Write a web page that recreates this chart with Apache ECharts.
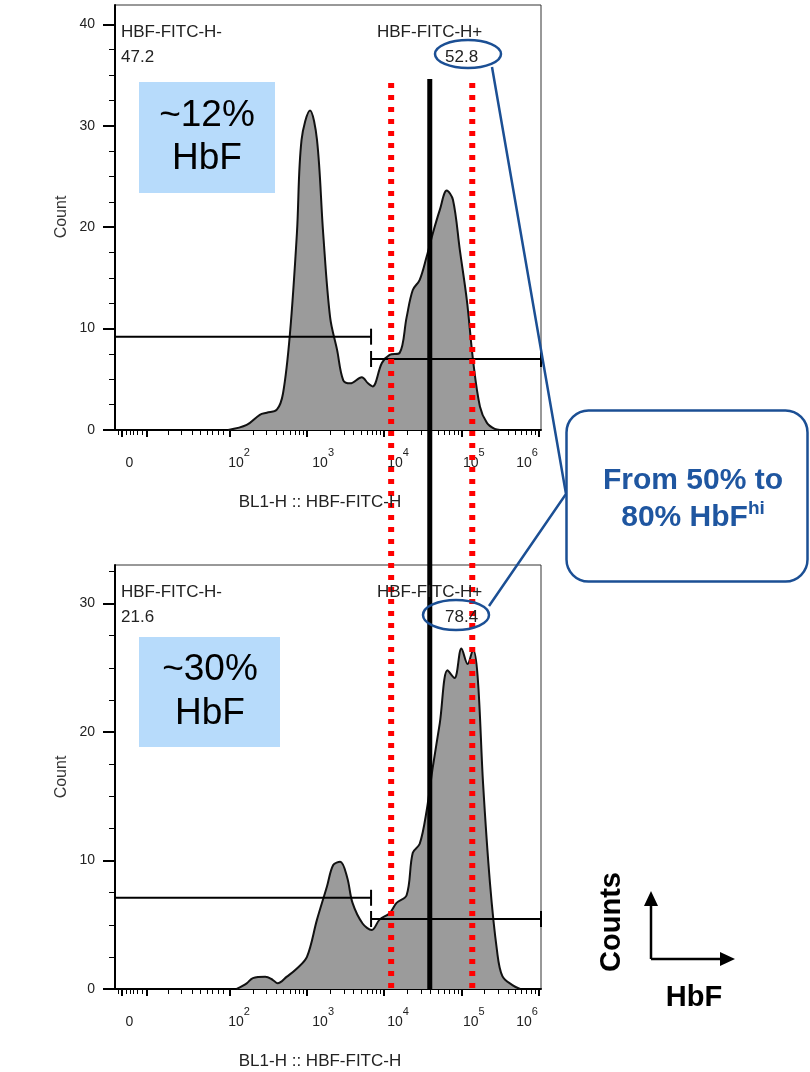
<!DOCTYPE html>
<html>
<head>
<meta charset="UTF-8">
<title>HbF histograms</title>
<script src="https://cdn.jsdelivr.net/npm/echarts@6.0.0/dist/echarts.min.js"></script>
<style>
  html, body { margin: 0; padding: 0; background: #fff; }
  #chart { width: 810px; height: 1072px; }
</style>
</head>
<body>
<div id="chart"></div>
<script>
// histogram values: x in log10 units of BL1-H fluorescence, y = count
var topLog   = [1.98, 2.22, 2.39, 2.48, 2.61, 2.69, 2.78, 2.87, 2.93, 3.04, 3.13, 3.21, 3.30, 3.39, 3.47, 3.56, 3.71, 3.79, 3.85, 3.97, 4.07, 4.20, 4.29, 4.37, 4.46, 4.55, 4.63, 4.72, 4.81, 4.89, 4.98, 5.07, 5.15, 5.24, 5.33, 5.43, 5.50];
var topCount = [0, 0.5, 1.5, 1.7, 2.0, 3.6, 9.5, 19.4, 28.6, 31.5, 28.6, 19.4, 11.1, 7.9, 4.9, 4.6, 5.2, 4.6, 4.3, 6.6, 7.4, 7.6, 11.1, 13.8, 14.8, 17.1, 19.4, 21.7, 23.6, 22.7, 17.7, 12.8, 6.9, 2.3, 0.7, 0.1, 0];

var botLog   = [2.09, 2.22, 2.30, 2.46, 2.56, 2.62, 2.74, 2.87, 3.00, 3.13, 3.26, 3.34, 3.43, 3.52, 3.59, 3.72, 3.84, 3.94, 4.07, 4.16, 4.29, 4.37, 4.46, 4.55, 4.63, 4.72, 4.82, 4.91, 5.00, 5.08, 5.15, 5.21, 5.28, 5.37, 5.46, 5.53, 5.66, 5.76];
var botCount = [0, 0.44, 0.85, 0.96, 0.7, 0.44, 0.96, 1.6, 2.5, 5.4, 8.0, 9.65, 9.9, 8.7, 6.7, 5.1, 4.6, 5.4, 5.9, 6.7, 7.3, 10.6, 11.3, 13.9, 17.3, 20.7, 24.8, 24.2, 26.5, 25.3, 26.4, 24.3, 16.0, 8.2, 3.0, 1.0, 0.3, 0];

// gates [from, to, height]
var topGates = [[0.515, 3.83, 9.2], [3.83, 6.03, 7.0]];
var botGates = [[0.515, 3.83, 7.1], [3.83, 6.03, 5.45]];
var topGateText = ['HBF-FITC-H-', '47.2', 'HBF-FITC-H+', '52.8'];
var botGateText = ['HBF-FITC-H-', '21.6', 'HBF-FITC-H+', '78.4'];

// reference lines (log10 units)
var redLog = [4.09, 5.14];
var meanLog = 4.59;

// axis ticks and labels
var xMin = 0.515, xMax = 6.03;
var xMajor = [0.606, 0.929, 2, 3, 4, 5, 6];
var xMinorLow = [0.554, 0.657, 0.709, 0.748, 0.800, 0.864, 1.201, 1.369, 1.511, 1.615, 1.705, 1.770, 1.848, 1.912];
var xLabelPos = [0.72, 2.12, 3.21, 4.18, 5.16, 5.85];
var xLabels = ['0', '2', '3', '4', '5', '6'];
var topYMax = 41.9, botYMax = 33;
var topYMajor = [0, 10, 20, 30, 40];
var botYMajor = [0, 10, 20, 30];

var xMinor = xMinorLow.slice();
for (var n = 2; n < 6; n++) {
  for (var k = 2; k < 10; k++) xMinor.push(n + Math.log10(k));
}
function minorY(max) {
  var a = [];
  for (var v = 2.5; v < max; v += 2.5) if (v % 10 !== 0) a.push(v);
  return a;
}

var FONT = '"Liberation Sans", Arial, sans-serif';
var BLUE = '#1b4f94';

function xLabelFor(v) {
  var best = 0;
  for (var i = 1; i < xLabelPos.length; i++) {
    if (Math.abs(xLabelPos[i] - v) < Math.abs(xLabelPos[best] - v)) best = i;
  }
  var t = xLabels[best];
  return t === '0' ? '{b|0}{s| }' : '{b|10}{s|' + t + '}';
}

function xAxes(grid) {
  return [{
    gridIndex: grid, type: 'value', min: xMin, max: xMax, position: 'bottom',
    axisLine: { show: true, onZero: false, lineStyle: { color: '#000', width: 2 } },
    axisTick: { show: true, customValues: xMajor, length: 7, lineStyle: { color: '#000', width: 2 } },
    axisLabel: {
      show: true, customValues: xLabelPos, margin: 26,
      formatter: function (v) { return xLabelFor(v); },
      rich: {
        b: { fontFamily: FONT, fontSize: 14, color: '#222', lineHeight: 14, verticalAlign: 'bottom' },
        s: { fontFamily: FONT, fontSize: 11, color: '#222', lineHeight: 10, padding: [0, 0, 12, 0], verticalAlign: 'bottom' }
      }
    },
    splitLine: { show: false }
  }, {
    gridIndex: grid, type: 'value', min: xMin, max: xMax, position: 'bottom',
    axisLine: { show: false },
    axisTick: { show: true, customValues: xMinor, length: 5, lineStyle: { color: '#000', width: 1 } },
    axisLabel: { show: false },
    splitLine: { show: false }
  }];
}

function yAxes(grid, max, major) {
  return [{
    gridIndex: grid, type: 'value', min: 0, max: max, position: 'left',
    axisLine: { show: true, onZero: false, lineStyle: { color: '#000', width: 2 } },
    axisTick: { show: true, customValues: major, length: 12, lineStyle: { color: '#000', width: 2 } },
    axisLabel: { show: true, customValues: major, margin: 20, fontFamily: FONT, fontSize: 14, color: '#222' },
    splitLine: { show: false }
  }, {
    gridIndex: grid, type: 'value', min: 0, max: max, position: 'left',
    axisLine: { show: false },
    axisTick: { show: true, customValues: minorY(max), length: 6, lineStyle: { color: '#000', width: 1 } },
    axisLabel: { show: false },
    splitLine: { show: false }
  }];
}

function gateRender(params, api) {
  var a = api.coord([api.value(0), api.value(2)]);
  var b = api.coord([api.value(1), api.value(2)]);
  var st = { stroke: '#000', lineWidth: 2 };
  return {
    type: 'group', children: [
      { type: 'line', shape: { x1: a[0], y1: a[1], x2: b[0], y2: b[1] }, style: st },
      { type: 'line', shape: { x1: a[0], y1: a[1] - 8, x2: a[0], y2: a[1] + 8 }, style: st },
      { type: 'line', shape: { x1: b[0], y1: b[1] - 8, x2: b[0], y2: b[1] + 8 }, style: st }
    ]
  };
}

function pairs(xs, ys) {
  return xs.map(function (x, i) { return [x, ys[i]]; });
}

var chart = echarts.init(document.getElementById('chart'), null, { renderer: 'canvas' });

var option = {
  animation: false,
  backgroundColor: '#fff',
  grid: [
    { left: 115, top: 5, width: 426, height: 425, show: true, borderColor: '#333', borderWidth: 1, outerBoundsMode: 'none' },
    { left: 115, top: 565, width: 426, height: 424, show: true, borderColor: '#333', borderWidth: 1, outerBoundsMode: 'none' }
  ],
  xAxis: xAxes(0).concat(xAxes(1)),
  yAxis: yAxes(0, topYMax, topYMajor).concat(yAxes(1, botYMax, botYMajor)),
  series: [
    {
      type: 'line', xAxisIndex: 0, yAxisIndex: 0, data: pairs(topLog, topCount),
      smooth: 0.35, symbol: 'none',
      lineStyle: { color: '#111', width: 2 },
      areaStyle: { color: '#9b9b9b', opacity: 1 }
    },
    {
      type: 'line', xAxisIndex: 2, yAxisIndex: 2, data: pairs(botLog, botCount),
      smooth: 0.35, symbol: 'none',
      lineStyle: { color: '#111', width: 2 },
      areaStyle: { color: '#9b9b9b', opacity: 1 }
    },
    { type: 'custom', xAxisIndex: 0, yAxisIndex: 0, data: topGates, encode: { x: [0, 1], y: 2 }, renderItem: gateRender, z: 5 },
    { type: 'custom', xAxisIndex: 2, yAxisIndex: 2, data: botGates, encode: { x: [0, 1], y: 2 }, renderItem: gateRender, z: 5 }
  ]
};
chart.setOption(option);

// overlays anchored on the axes
var yStartRed = chart.convertToPixel({ yAxisIndex: 0 }, 34.2);
var yStartMean = chart.convertToPixel({ yAxisIndex: 0 }, 34.6);
var yEnd = chart.convertToPixel({ yAxisIndex: 2 }, 0);
var gfx = [];

redLog.forEach(function (v) {
  var x = chart.convertToPixel({ xAxisIndex: 0 }, v);
  gfx.push({ type: 'line', z: 100, shape: { x1: x, y1: yStartRed, x2: x, y2: yEnd },
    style: { stroke: '#ff0000', lineWidth: 6, lineDash: [5, 7] } });
});
var xm = chart.convertToPixel({ xAxisIndex: 0 }, meanLog);
gfx.push({ type: 'line', z: 100, shape: { x1: xm, y1: yStartMean, x2: xm, y2: yEnd },
  style: { stroke: '#000', lineWidth: 5 } });

function txt(x, y, s, size, extra) {
  var st = { text: s, x: x, y: y, fill: '#222', font: size + 'px ' + FONT, align: 'left', verticalAlign: 'middle' };
  for (var k in extra) st[k] = extra[k];
  return { type: 'text', z: 110, style: st };
}

// gate labels
gfx.push(txt(121, 32, topGateText[0], 17));
gfx.push(txt(121, 57, topGateText[1], 17));
gfx.push(txt(377, 32, topGateText[2], 17));
gfx.push(txt(445, 57, topGateText[3], 17));
gfx.push(txt(121, 592, botGateText[0], 17));
gfx.push(txt(121, 617, botGateText[1], 17));
gfx.push(txt(377, 592, botGateText[2], 17));
gfx.push(txt(445, 617, botGateText[3], 17));

// axis names
gfx.push(txt(320, 502, 'BL1-H :: HBF-FITC-H', 17, { align: 'center' }));
gfx.push(txt(320, 1061, 'BL1-H :: HBF-FITC-H', 17, { align: 'center' }));
gfx.push({ type: 'text', z: 110, x: 62, y: 217, rotation: Math.PI / 2,
  style: { text: 'Count', x: 0, y: 0, fill: '#333', font: '16px ' + FONT, align: 'center', verticalAlign: 'middle' } });
gfx.push({ type: 'text', z: 110, x: 62, y: 777, rotation: Math.PI / 2,
  style: { text: 'Count', x: 0, y: 0, fill: '#333', font: '16px ' + FONT, align: 'center', verticalAlign: 'middle' } });

// blue HbF boxes
gfx.push({ type: 'rect', z: 105, shape: { x: 139, y: 82, width: 136, height: 111 }, style: { fill: '#b7dbfb' } });
gfx.push(txt(207, 116, '~12%', 37, { align: 'center', fill: '#000' }));
gfx.push(txt(207, 159, 'HbF', 37, { align: 'center', fill: '#000' }));
gfx.push({ type: 'rect', z: 105, shape: { x: 139, y: 637, width: 141, height: 110 }, style: { fill: '#b7dbfb' } });
gfx.push(txt(210, 670, '~30%', 37, { align: 'center', fill: '#000' }));
gfx.push(txt(210, 714, 'HbF', 37, { align: 'center', fill: '#000' }));

// ellipses and callout
gfx.push({ type: 'ellipse', z: 120, shape: { cx: 468, cy: 54, rx: 33, ry: 14 }, style: { fill: 'none', stroke: BLUE, lineWidth: 2.5 } });
gfx.push({ type: 'ellipse', z: 120, shape: { cx: 456, cy: 615, rx: 33, ry: 15 }, style: { fill: 'none', stroke: BLUE, lineWidth: 2.5 } });
gfx.push({ type: 'polyline', z: 120, shape: { points: [[492, 67], [566, 494], [489, 606]] }, style: { fill: 'none', stroke: BLUE, lineWidth: 2.5 } });
gfx.push({ type: 'rect', z: 121, shape: { x: 566.5, y: 410.5, width: 241, height: 171, r: 22 }, style: { fill: '#fff', stroke: BLUE, lineWidth: 2.5 } });
gfx.push({ type: 'text', z: 122, style: {
  text: '{b|From 50% to}\n{b|80% HbF}{s|hi}', x: 693, y: 496, align: 'center', verticalAlign: 'middle',
  rich: {
    b: { font: 'bold 30px ' + FONT, fill: '#1f56a0', lineHeight: 37, verticalAlign: 'bottom' },
    s: { font: 'bold 19px ' + FONT, fill: '#1f56a0', lineHeight: 22, padding: [0, 0, 15, 0], verticalAlign: 'bottom' }
  }
} });

// Counts / HbF key
gfx.push({ type: 'line', z: 110, shape: { x1: 651, y1: 959, x2: 651, y2: 905 }, style: { stroke: '#000', lineWidth: 2.5 } });
gfx.push({ type: 'polygon', z: 110, shape: { points: [[651, 891], [644, 906], [658, 906]] }, style: { fill: '#000' } });
gfx.push({ type: 'line', z: 110, shape: { x1: 651, y1: 959, x2: 721, y2: 959 }, style: { stroke: '#000', lineWidth: 2.5 } });
gfx.push({ type: 'polygon', z: 110, shape: { points: [[735, 959], [720, 952], [720, 966]] }, style: { fill: '#000' } });
gfx.push({ type: 'text', z: 110, x: 612, y: 922, rotation: Math.PI / 2,
  style: { text: 'Counts', x: 0, y: 0, fill: '#000', font: 'bold 29px ' + FONT, align: 'center', verticalAlign: 'middle' } });
gfx.push(txt(694, 998, 'HbF', 29, { align: 'center', fill: '#000', font: 'bold 29px ' + FONT }));

chart.setOption({ graphic: gfx });
</script>
</body>
</html>
